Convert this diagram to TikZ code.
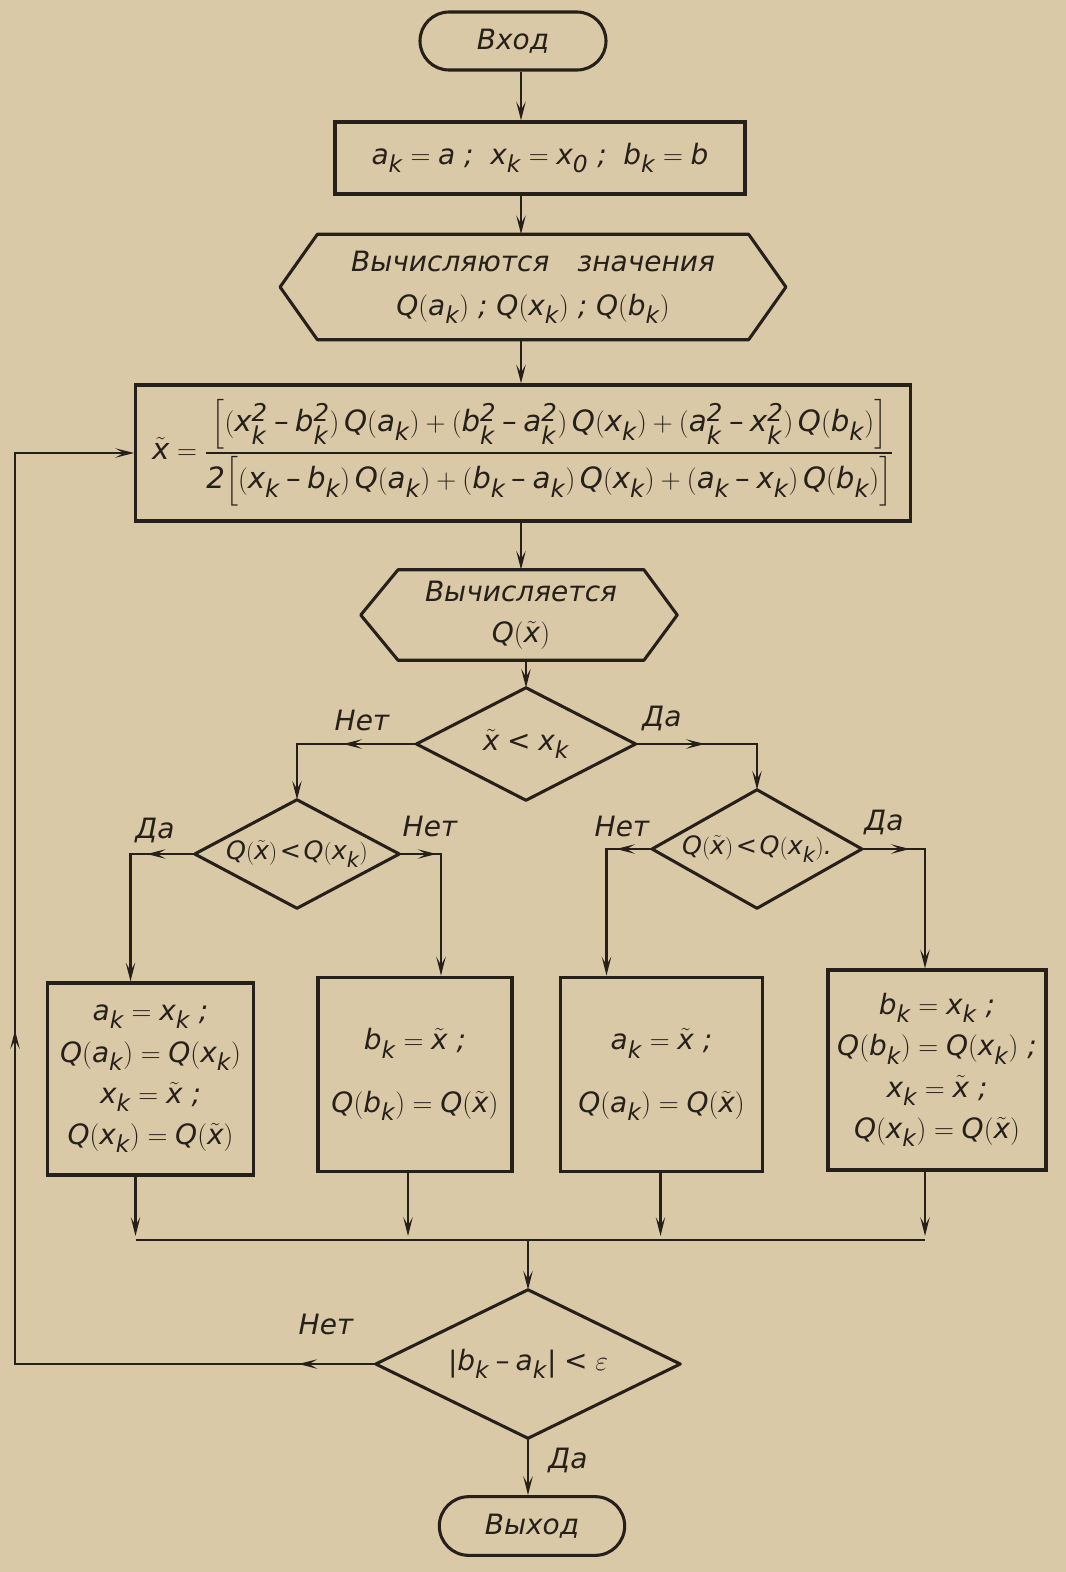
\documentclass[tikz,border=0pt]{standalone}
\usepackage{amsmath}
\usepackage{fontspec}
\setmainfont{DejaVu Sans}
\usepackage[italic]{mathastext}
\usetikzlibrary{shapes.misc,arrows.meta,decorations.markings,calc}
\definecolor{paper}{RGB}{218,201,166}
\definecolor{ink}{RGB}{38,32,27}
\tikzset{
  >={Stealth[length=14pt,width=7pt,inset=6pt]},
  every node/.style={font=\fontsize{21}{27}\selectfont\itshape, text=ink, inner sep=0pt},
  blk/.style={draw=ink, line width=2.3pt, rectangle},
  term/.style={draw=ink, line width=2.3pt, rounded rectangle},
  hexline/.style={draw=ink, line width=2.3pt, line join=round},
  flow/.style={draw=ink, color=ink, line width=1.9pt},
  arrowat/.style={postaction={decorate}, decoration={markings, mark=at position #1 with {\arrow{>}}}},
}
\newcommand{\sq}{^{\textit{2}}}

\begin{document}
\begin{tikzpicture}[x=0.75pt,y=0.75pt,yscale=-1,xscale=1]
%set diagram to the page, 1066 x 1572
\fill[paper] (0,0) rectangle (1066,1572);
\useasboundingbox (0,0) rectangle (1066,1572);

%Terminal: entry
\node[term, minimum width=139.5pt, minimum height=43.5pt] (start) at (513,41) {Вход};
%Block: initial values
\node[blk, minimum width=307.5pt, minimum height=54pt] (init) at (540,158) {$a_k=a$ ;\; $x_k=x_{\textit{0}}$ ;\; $b_k=b$};
%Hexagon: values of Q
\node[minimum width=323pt, minimum height=78.75pt, align=center] (calc1) at (533,287) {Вычисляются\quad значения\\[6pt] $Q(a_k)$ ; $Q(x_k)$ ; $Q(b_k)$};
\draw[hexline] (calc1.north west) -- (calc1.north east) -- ([xshift=28pt]calc1.east) -- (calc1.south east) -- (calc1.south west) -- ([xshift=-28pt]calc1.west) -- cycle;
%Block: parabola minimum
\node[blk, minimum width=581pt, minimum height=102pt, font=\fontsize{22}{26}\selectfont\itshape] (formula) at (523,453)
  {$\tilde{x}=\dfrac{\Bigl[(x_k\sq-b_k\sq)\,Q(a_k)+(b_k\sq-a_k\sq)\,Q(x_k)+(a_k\sq-x_k\sq)\,Q(b_k)\Bigr]}{\textit{2}\Bigl[(x_k-b_k)\,Q(a_k)+(b_k-a_k)\,Q(x_k)+(a_k-x_k)\,Q(b_k)\Bigr]}$};
%Hexagon: value at new point
\node[minimum width=184pt, minimum height=67.5pt, align=center] (calc2) at (521,615) {Вычисляется\\[4pt] $Q(\tilde{x})$};
\draw[hexline] (calc2.north west) -- (calc2.north east) -- ([xshift=25pt]calc2.east) -- (calc2.south east) -- (calc2.south west) -- ([xshift=-28pt]calc2.west) -- cycle;

%Diamonds
\node[minimum width=164pt, minimum height=84pt] (d1) at (526,744) {$\tilde{x}<x_k$};
\draw[hexline] (d1.north) -- (d1.east) -- (d1.south) -- (d1.west) -- cycle;
\node[minimum width=153pt, minimum height=81pt, font=\fontsize{19}{23}\selectfont\itshape] (d2) at (297,854) {$Q(\tilde{x})\!<\!Q(x_k)$};
\draw[hexline] (d2.north) -- (d2.east) -- (d2.south) -- (d2.west) -- cycle;
\node[minimum width=157pt, minimum height=88.5pt, font=\fontsize{19}{23}\selectfont\itshape] (d3) at (757,849) {$Q(\tilde{x})\!<\!Q(x_k)$.};
\draw[hexline] (d3.north) -- (d3.east) -- (d3.south) -- (d3.west) -- cycle;
\node[minimum width=228pt, minimum height=111pt] (d4) at (528,1364) {$\left|b_k-a_k\right|<\varepsilon$};
\draw[hexline] (d4.north) -- (d4.east) -- (d4.south) -- (d4.west) -- cycle;

%Blocks: new interval
\node[blk, minimum width=154pt, minimum height=144pt, align=center] (boxA) at (150.5,1079)
  {$a_k=x_k$ ;\\[4pt] $Q(a_k)=Q(x_k)$\\[4pt] $x_k=\tilde{x}$ ;\\[4pt] $Q(x_k)=Q(\tilde{x})$};
\node[blk, minimum width=145.5pt, minimum height=146pt, align=center] (boxB) at (415,1074.5)
  {$b_k=\tilde{x}$ ;\\[20pt] $Q(b_k)=Q(\tilde{x})$};
\node[blk, minimum width=151pt, minimum height=146pt, align=center] (boxC) at (661.5,1074.5)
  {$a_k=\tilde{x}$ ;\\[20pt] $Q(a_k)=Q(\tilde{x})$};
\node[blk, minimum width=163.5pt, minimum height=150pt, align=center] (boxD) at (937,1070)
  {$b_k=x_k$ ;\\[4pt] $Q(b_k)=Q(x_k)$ ;\\[4pt] $x_k=\tilde{x}$ ;\\[4pt] $Q(x_k)=Q(\tilde{x})$};

%Terminal: exit
\node[term, minimum width=139pt, minimum height=44pt] (exit) at (532,1526) {Выход};

%Free ends of the lines
\coordinate (spine) at (521,0);
\coordinate (bus) at (528,1240);
\coordinate (loop) at (15,0);
\coordinate (oA) at ($(boxA.south)+(-15,0)$);
\coordinate (oB) at ($(boxB.south)+(-7,0)$);
\coordinate (oC) at ($(boxC.south)+(-1,0)$);
\coordinate (oD) at ($(boxD.south)+(-12,0)$);

%Straight Lines: main chain
\draw[flow,->] (start.south -| spine) -- (init.north -| spine);
\draw[flow,->] (init.south -| spine) -- (calc1.north -| spine);
\draw[flow,->] (calc1.south -| spine) -- (formula.north -| spine);
\draw[flow,->] (formula.south -| spine) -- (calc2.north -| spine);
\draw[flow,->] (calc2.south -| d1.north) -- (d1.north);

%Straight Lines: branches
\draw[flow,->,arrowat=55pt] (d1.west) -| (d2.north);
\draw[flow,->,arrowat=52pt] (d1.east) -| (d3.north);
\draw[flow,->,arrowat=36pt] (d2.west) -| ($(boxA.north)+(-20,0)$);
\draw[flow,->,arrowat=28pt] (d2.east) -| ($(boxB.north)+(26,0)$);
\draw[flow,->,arrowat=27pt] (d3.west) -| ($(boxC.north)+(-55,0)$);
\draw[flow,->,arrowat=36pt] (d3.east) -| ($(boxD.north)+(-12,0)$);

%Straight Lines: collector
\draw[flow,->,shorten >=3pt] (oA) -- (oA |- bus);
\draw[flow,->,shorten >=3pt] (oB) -- (oB |- bus);
\draw[flow,->,shorten >=3pt] (oC) -- (oC |- bus);
\draw[flow,->,shorten >=3pt] (oD) -- (oD |- bus);
\draw[flow] (oA |- bus) -- (oD |- bus);
\draw[flow,->] (bus) -- (d4.north);

%Straight Lines: stop test
\draw[flow,->] (d4.south) -- (d4.south |- exit.north);
\draw[flow,->,postaction={decorate},decoration={markings,mark=at position 58pt with {\arrow{>}},mark=at position 521pt with {\arrow{>}}}]
  (d4.west) -- (d4.west -| loop) -- (formula.west -| loop) -- (formula.west);

% Text Node
\node (no1) at (362,720) {Нет};
\node (yes1) at (662,718) {Да};
\node (yes2) at (155,830) {Да};
\node (no2) at (430,826) {Нет};
\node (no3) at (622,826) {Нет};
\node (yes3) at (884,822) {Да};
\node (no4) at (326,1324) {Нет};
\node (yes4) at (568,1460) {Да};

\end{tikzpicture}
\end{document}
